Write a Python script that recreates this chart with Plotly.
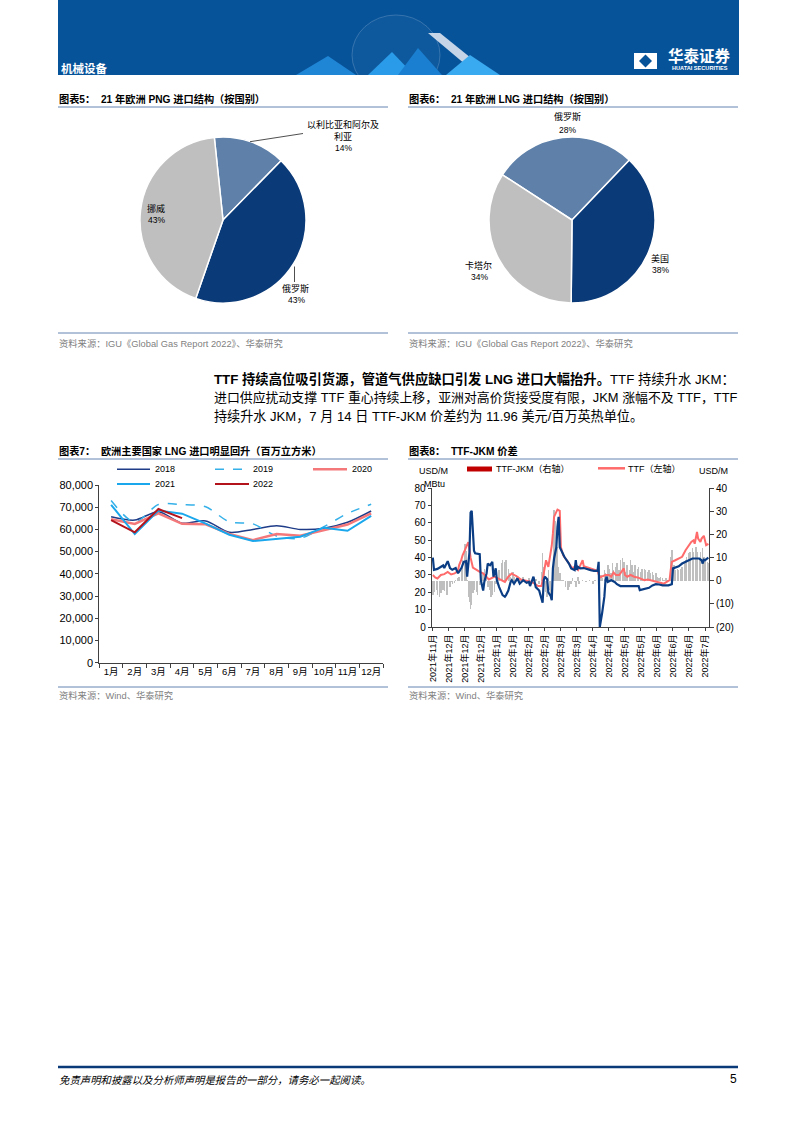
import plotly.graph_objects as go

W, H = 793, 1122
def X(px): return px / W
def Y(py): return 1 - py / H

FONT = "Liberation Sans, Noto Sans CJK SC, sans-serif"
CJK = "Noto Sans CJK SC, Liberation Sans, sans-serif"
NAVY = "#0b3a78"
STEEL = "#5e80a9"
GRAY = "#bfbfbf"
RULE = "#6584b0"
SRC = "#7f7f7f"
AX = "#404040"

# ---------------- data ----------------
png_labels = ["以利比亚和阿尔及利亚", "俄罗斯", "挪威"]
png_values = [14, 43, 43]
lng_labels = ["俄罗斯", "美国", "卡塔尔"]
lng_values = [28, 38, 34]

months = ["1月", "2月", "3月", "4月", "5月", "6月", "7月", "8月", "9月", "10月", "11月", "12月"]
lng_2018 = [65700, 64200, 68000, 62800, 63800, 58700, 60000, 61700, 60000, 60500, 63200, 68300]
lng_2019 = [73000, 63200, 71200, 71200, 70200, 63400, 62500, 57000, 56000, 61200, 67200, 71300]
lng_2020 = [64600, 62500, 67200, 62500, 62300, 58000, 55200, 57900, 57200, 59700, 62200, 67200]
lng_2021 = [71100, 57900, 68500, 67100, 62600, 57600, 54800, 55900, 56700, 60800, 59400, 66100]
lng_2022 = [64200, 58700, 69200, 65100]

jkm_dates = [
    "2021-11-17", "2021-11-18", "2021-11-21", "2021-11-24", "2021-11-26", "2021-11-27", "2021-11-30",
    "2021-12-02", "2021-12-04", "2021-12-07", "2021-12-09", "2021-12-10", "2021-12-12", "2021-12-14", "2021-12-16",
    "2021-12-17", "2021-12-19", "2021-12-20", "2021-12-21", "2021-12-23", "2021-12-24", "2021-12-28", "2021-12-29", "2021-12-31",
    "2022-01-01", "2022-01-03", "2022-01-04", "2022-01-06", "2022-01-08", "2022-01-09", "2022-01-11", "2022-01-12", "2022-01-14",
    "2022-01-17", "2022-01-19", "2022-01-20", "2022-01-22", "2022-01-24", "2022-01-25", "2022-01-27", "2022-01-30",
    "2022-02-01", "2022-02-04", "2022-02-07", "2022-02-09", "2022-02-10", "2022-02-12", "2022-02-13", "2022-02-15",
    "2022-02-18", "2022-02-21", "2022-02-22", "2022-02-23", "2022-02-25", "2022-02-26", "2022-02-28",
    "2022-03-01", "2022-03-02", "2022-03-03", "2022-03-05", "2022-03-06", "2022-03-07", "2022-03-08", "2022-03-10", "2022-03-12",
    "2022-03-14", "2022-03-16", "2022-03-18", "2022-03-21", "2022-03-22", "2022-03-23", "2022-03-24", "2022-03-26", "2022-03-29",
    "2022-04-01", "2022-04-04", "2022-04-07", "2022-04-10", "2022-04-11", "2022-04-12", "2022-04-14", "2022-04-16", "2022-04-17",
    "2022-04-18", "2022-04-19", "2022-04-22", "2022-04-25", "2022-04-27", "2022-04-30",
    "2022-05-03", "2022-05-06", "2022-05-09", "2022-05-12", "2022-05-16", "2022-05-17", "2022-05-19", "2022-05-22", "2022-05-25",
    "2022-05-28", "2022-05-31",
    "2022-06-03", "2022-06-06", "2022-06-11", "2022-06-14", "2022-06-15", "2022-06-17", "2022-06-20", "2022-06-23", "2022-06-26", "2022-06-29",
    "2022-07-02", "2022-07-08", "2022-07-10", "2022-07-11", "2022-07-12", "2022-07-13", "2022-07-16"]
jkm = [40, 33, 33.5, 35, 35.5, 34, 38,
       34, 33, 34, 31, 32, 34, 37.6, 38, 29, 43, 66, 67, 44, 42.5, 42, 27, 21,
       26, 31, 36.6, 35.6, 37.6, 29, 33.8, 27, 23, 18.4, 17.5, 18.4, 21, 26, 27, 25, 28,
       25, 27, 25.5, 26, 23.6, 28, 29, 23, 21, 14, 27, 29, 27.5, 20, 18,
       15.5, 33.8, 39.5, 46, 57.7, 63.5, 46, 43, 40.5, 38.5, 36.6, 33.8, 32.8, 38.5, 33, 34.7, 33.8, 34,
       33.2, 32.8, 32.4, 32.4, 37.6, 0, 7.9, 17.5, 27, 29, 26, 27, 26, 24.7, 23.6,
       23.6, 23.2, 23.6, 23.2, 23.6, 21.3, 21.7, 22.3, 22.6, 24, 24.7,
       24.5, 24, 24, 24.7, 33.8, 34.3, 35, 36.6, 37.6, 38.2,
       39.5, 39.5, 38.5, 36.6, 38.8, 38.5, 40]

ttf_dates = [
    "2021-11-17", "2021-11-19", "2021-11-21", "2021-11-24", "2021-11-27", "2021-11-30",
    "2021-12-03", "2021-12-06", "2021-12-09", "2021-12-10", "2021-12-12", "2021-12-13", "2021-12-15", "2021-12-16", "2021-12-18",
    "2021-12-19", "2021-12-20", "2021-12-22", "2021-12-25", "2021-12-28", "2021-12-31",
    "2022-01-03", "2022-01-05", "2022-01-10", "2022-01-13", "2022-01-16", "2022-01-19", "2022-01-22", "2022-01-25", "2022-01-27", "2022-01-30",
    "2022-02-02", "2022-02-05", "2022-02-08", "2022-02-11", "2022-02-14", "2022-02-17", "2022-02-20", "2022-02-21", "2022-02-23",
    "2022-02-24", "2022-02-26", "2022-02-27",
    "2022-03-01", "2022-03-02", "2022-03-03", "2022-03-05", "2022-03-06", "2022-03-08", "2022-03-09", "2022-03-11", "2022-03-14",
    "2022-03-17", "2022-03-19", "2022-03-21", "2022-03-24", "2022-03-26", "2022-03-28", "2022-03-29",
    "2022-04-01", "2022-04-04", "2022-04-07", "2022-04-10", "2022-04-12", "2022-04-14", "2022-04-17", "2022-04-20", "2022-04-22",
    "2022-04-24", "2022-04-26", "2022-04-29", "2022-04-30",
    "2022-05-03", "2022-05-04", "2022-05-06", "2022-05-09", "2022-05-12", "2022-05-15", "2022-05-18", "2022-05-21", "2022-05-24",
    "2022-05-27", "2022-05-29",
    "2022-06-01", "2022-06-04", "2022-06-07", "2022-06-10", "2022-06-12", "2022-06-13", "2022-06-14", "2022-06-17", "2022-06-20",
    "2022-06-23", "2022-06-26", "2022-06-29",
    "2022-07-01", "2022-07-03", "2022-07-04", "2022-07-06", "2022-07-07", "2022-07-09", "2022-07-10", "2022-07-12", "2022-07-13",
    "2022-07-14", "2022-07-16"]
ttf = [30, 28.6, 28, 30, 30.5, 31.8,
       30.3, 30.9, 32.4, 35.7, 39, 41.4, 44.3, 46.2, 49, 45, 40, 34.3, 32.8, 31.8, 31,
       29, 27.4, 29, 28, 27, 26, 29, 30.9, 30, 29,
       27.4, 27, 26.6, 26, 25, 23.6, 23.6, 27, 34.7, 38.5, 34.7, 38.5,
       47, 54, 63.5, 66.4, 67.7, 67, 46, 41.4, 38.5, 35.7, 33.8, 34.7, 32.8, 35.7, 38.5, 35,
       34.3, 33.8, 32.8, 32.4, 28.6, 29, 30, 30, 29, 31.5, 30, 30, 31,
       33.8, 30, 29, 30, 29, 28.6, 28, 27, 27.4, 27, 26.4,
       26, 25.5, 25, 26, 27, 32.8, 37.6, 38.5, 39.5, 40.5, 44.3, 47.2,
       49, 50, 48, 54.8, 51, 49, 51, 52.6, 50, 47.2, 48]

spread_dates = [
    "2021-11-17", "2021-11-18", "2021-11-20", "2021-11-21", "2021-11-23", "2021-11-24", "2021-11-26", "2021-11-27", "2021-11-29", "2021-11-30",
    "2021-12-02", "2021-12-03", "2021-12-04", "2021-12-06", "2021-12-07", "2021-12-09", "2021-12-10", "2021-12-12", "2021-12-13", "2021-12-15",
    "2021-12-16", "2021-12-17", "2021-12-18", "2021-12-19", "2021-12-20", "2021-12-21", "2021-12-22", "2021-12-23", "2021-12-25", "2021-12-26",
    "2021-12-28", "2021-12-29", "2021-12-31",
    "2022-01-01", "2022-01-03", "2022-01-04", "2022-01-06", "2022-01-07", "2022-01-08", "2022-01-10", "2022-01-11", "2022-01-13", "2022-01-14",
    "2022-01-16", "2022-01-17", "2022-01-19", "2022-01-20", "2022-01-22", "2022-01-23", "2022-01-24", "2022-01-26", "2022-01-27", "2022-01-29",
    "2022-02-01", "2022-02-04", "2022-02-07", "2022-02-09", "2022-02-12", "2022-02-15", "2022-02-18", "2022-02-20", "2022-02-21", "2022-02-22",
    "2022-02-24", "2022-02-25", "2022-02-26", "2022-02-27", "2022-02-28",
    "2022-03-02", "2022-03-03", "2022-03-04", "2022-03-05", "2022-03-06", "2022-03-07", "2022-03-08", "2022-03-10", "2022-03-11", "2022-03-13",
    "2022-03-15", "2022-03-16", "2022-03-18", "2022-03-19", "2022-03-21", "2022-03-22", "2022-03-24", "2022-03-25", "2022-03-28", "2022-03-31",
    "2022-04-03", "2022-04-06", "2022-04-08", "2022-04-11", "2022-04-13", "2022-04-14", "2022-04-16", "2022-04-17", "2022-04-19", "2022-04-20",
    "2022-04-22", "2022-04-23", "2022-04-24", "2022-04-26", "2022-04-27", "2022-04-29", "2022-04-30",
    "2022-05-02", "2022-05-03", "2022-05-05", "2022-05-06", "2022-05-08", "2022-05-09", "2022-05-10", "2022-05-12", "2022-05-13", "2022-05-15",
    "2022-05-16", "2022-05-18", "2022-05-19", "2022-05-21", "2022-05-22", "2022-05-24", "2022-05-25", "2022-05-26", "2022-05-28", "2022-05-29",
    "2022-05-31",
    "2022-06-01", "2022-06-03", "2022-06-04", "2022-06-06", "2022-06-07", "2022-06-09", "2022-06-10", "2022-06-11", "2022-06-13", "2022-06-14",
    "2022-06-16", "2022-06-17", "2022-06-19", "2022-06-20", "2022-06-22", "2022-06-23", "2022-06-25", "2022-06-26", "2022-06-27", "2022-06-29",
    "2022-06-30",
    "2022-07-02", "2022-07-03", "2022-07-05", "2022-07-06", "2022-07-08", "2022-07-09", "2022-07-11", "2022-07-12", "2022-07-13", "2022-07-15",
    "2022-07-16"]
spread = [-6, -5, -4, -6.2, -6.9, -5.5, -4, -4.6, -6.2, -6.2,
          -2.6, -0.5, -1.2, -0.9, 0.3, 1, 1.7, 4.6, 8.9, 16,
          13, 0.3, -7, -9, -12, -10.5, -5.5, -4, -4.7, -6.2,
          -1.9, -0.5, 3.2,
          5.3, 3.9, -2.6, -4, -6.9, -6.2, -4.7, -1.2, 0.3, 4.6,
          7.5, 8.9, 8.2, 8.9, 5.3, 3.2, 1.7, 3.9, 1.7, 2.4,
          1, 1.7, 0.3, 1, -0.4, 0.6, -1.2, 3.9, 12, 6,
          -5, -7, 4.6, -4, -8,
          1.7, 30.8, 26, 22, 14.7, 6, 3.2, 0.3, 0.3, -2.6,
          -4, -2.6, -1.2, 1, -0.4, -2.6, 1.7, -1.2, 0.3, -0.4,
          0.3, -1.2, 0.3, 0.3, 2.4, 1, 4.6, 3.2, 6.8, 5.3,
          3.2, 7.5, 4.6, 5.8, 7.5, 4.6, 8.9,
          10, 8.2, 3.9, 6.8, 4.6, 8.9, 6.8, 3.9, 6.8, 5.3,
          6, 3.9, 4.9, 5.3, 4.6, 3.9, 4.6, 3.2, 3.9, 2.4,
          3.2,
          1.7, 1, 1.7, 1, 0.3, 1, 0.3, 0.3, 10.4, 13.5,
          6.8, 4.6, 5.3, 4.6, 4.9, 6, 7.5, 8.9, 10.4, 11.8,
          12.5,
          14, 12.5, 14.7, 12.5, 8.9, 12.5, 14, 10.4, 8.9, 8.2,
          7.5]

tick_dates = ["2021-11-17", "2021-12-01", "2021-12-15", "2021-12-29", "2022-01-12", "2022-01-26",
              "2022-02-09", "2022-02-23", "2022-03-09", "2022-03-23", "2022-04-06", "2022-04-20",
              "2022-05-04", "2022-05-18", "2022-06-01", "2022-06-15", "2022-06-29", "2022-07-13"]
tick_text = ["2021年11月", "2021年12月", "2021年12月", "2021年12月", "2022年1月", "2022年1月",
             "2022年2月", "2022年2月", "2022年3月", "2022年3月", "2022年4月", "2022年4月",
             "2022年5月", "2022年5月", "2022年6月", "2022年6月", "2022年6月", "2022年7月"]
spread_ticks = [-20, -10, 0, 10, 20, 30, 40]
spread_tick_text = ["(20)", "(10)", "0", "10", "20", "30", "40"]

# ---------------- figure ----------------
fig = go.Figure()

fig.add_trace(go.Pie(
    labels=png_labels, values=png_values, sort=False, direction="clockwise", rotation=-6,
    marker=dict(colors=[STEEL, NAVY, GRAY], line=dict(color="white", width=1.5)),
    textinfo="none", hoverinfo="skip", showlegend=False,
    domain=dict(x=[X(223 - 83), X(223 + 83)], y=[Y(220 + 83), Y(220 - 83)])))
fig.add_trace(go.Pie(
    labels=lng_labels, values=lng_values, sort=False, direction="clockwise", rotation=-57,
    marker=dict(colors=[STEEL, NAVY, GRAY], line=dict(color="white", width=1.5)),
    textinfo="none", hoverinfo="skip", showlegend=False,
    domain=dict(x=[X(572 - 83), X(572 + 83)], y=[Y(220 + 83), Y(220 - 83)])))

series7 = [
    (lng_2018, "#1f3c88", 1.5, "solid", "spline"),
    (lng_2019, "#35b0e8", 1.5, "dash", "spline"),
    (lng_2020, "#f4787a", 2.5, "solid", "linear"),
    (lng_2021, "#1aa7ec", 2.0, "solid", "linear"),
    (lng_2022, "#b3131b", 2.0, "solid", "linear"),
]
for vals, col, wd, dash, shp in series7:
    fig.add_trace(go.Scatter(x=months[:len(vals)], y=vals, mode="lines", xaxis="x", yaxis="y",
                             line=dict(color=col, width=wd, dash=dash, shape=shp, smoothing=0.8),
                             hoverinfo="skip", showlegend=False))

fig.add_trace(go.Bar(x=spread_dates, y=spread, xaxis="x2", yaxis="y2", marker=dict(color=GRAY, line=dict(width=0)),
                     width=86400000 * 1.35, hoverinfo="skip", showlegend=False))
fig.add_trace(go.Scatter(x=ttf_dates, y=ttf, xaxis="x2", yaxis="y3", mode="lines",
                         line=dict(color="#ff6b6b", width=2), hoverinfo="skip", showlegend=False))
fig.add_trace(go.Scatter(x=jkm_dates, y=jkm, xaxis="x2", yaxis="y3", mode="lines",
                         line=dict(color="#0a3d84", width=2.2), hoverinfo="skip", showlegend=False))

axis_common = dict(showline=True, linecolor=AX, linewidth=1, tickcolor=AX, ticks="outside",
                   showgrid=False, zeroline=False, fixedrange=True, automargin=False)

fig.update_layout(
    width=W, height=H, margin=dict(l=0, r=0, t=0, b=0, pad=0, autoexpand=False),
    paper_bgcolor="white", plot_bgcolor="white", showlegend=False,
    font=dict(family=FONT, color="#000000"),
    bargap=0, barmode="overlay", hovermode=False,
    xaxis=dict(domain=[X(99.3), X(383)], type="category", range=[-0.5, 11.5], anchor="y",
               tickson="boundaries", ticklen=4, tickangle=0, tickfont=dict(size=9.5, family=FONT), **axis_common),
    yaxis=dict(domain=[Y(662.7), Y(485)], range=[0, 80000], dtick=10000, tickformat=",", anchor="x",
               ticklen=3, tickfont=dict(size=11, family=FONT), **axis_common),
    xaxis2=dict(domain=[X(431.7), X(709)], type="date", range=["2021-11-16", "2022-07-16 12:00"], anchor="y2",
                tickmode="array", tickvals=tick_dates, ticktext=tick_text, tickangle=-90, ticklen=3,
                tickfont=dict(size=9, family=FONT), **axis_common),
    yaxis2=dict(domain=[Y(627), Y(488.3)], range=[-20, 40], side="right", anchor="x2",
                tickmode="array", tickvals=spread_ticks, ticktext=spread_tick_text, ticklen=4,
                tickfont=dict(size=10, family=FONT), **axis_common),
    yaxis3=dict(domain=[Y(627), Y(488.3)], range=[0, 80], dtick=10, side="left", overlaying="y2", anchor="x2",
                ticklen=3, tickfont=dict(size=10, family=FONT), **axis_common),
)

shapes = []
def L(x0, y0, x1, y1, color, width=1, dash="solid"):
    shapes.append(dict(type="line", xref="paper", yref="paper", x0=X(x0), y0=Y(y0), x1=X(x1), y1=Y(y1),
                       line=dict(color=color, width=width, dash=dash)))
def R(x0, y0, x1, y1, fill):
    shapes.append(dict(type="rect", xref="paper", yref="paper", x0=X(x0), y0=Y(y0), x1=X(x1), y1=Y(y1),
                       fillcolor=fill, line=dict(width=0)))
def P(pts, fill):
    d = "M " + " L ".join(f"{X(a):.5f},{Y(b):.5f}" for a, b in pts) + " Z"
    shapes.append(dict(type="path", xref="paper", yref="paper", path=d, fillcolor=fill, line=dict(width=0)))

# header band and decoration
R(58, 0, 739, 75, "#07539a")
shapes.append(dict(type="circle", xref="paper", yref="paper", x0=X(352), y0=Y(95), x1=X(440), y1=Y(15),
                   line=dict(color="rgba(255,255,255,0.18)", width=1), fillcolor="rgba(255,255,255,0.03)"))
P([(296, 75), (328, 56), (356, 75)], "#1f86d6")
P([(368, 75), (392, 52), (414, 75)], "#2a9be8")
P([(398, 75), (418, 48), (442, 75)], "#1a7fd0")
P([(428, 33), (440, 33), (492, 75), (478, 75)], "rgba(230,236,245,0.85)")
P([(446, 75), (470, 55), (500, 75)], "#3aaaf0")
# logo
R(634, 53, 657, 69, "white")
P([(645.5, 54.5), (652, 61), (645.5, 67.5), (639, 61)], "#07539a")
L(58, 107, 388, 107, RULE); L(408, 107, 738, 107, RULE)
L(58, 333, 388, 333, RULE); L(408, 333, 738, 333, RULE)
L(58, 459, 388, 459, RULE); L(408, 459, 738, 459, RULE)
L(58, 687, 388, 687, RULE); L(408, 687, 738, 687, RULE)
L(58, 1067, 738, 1067, "#0b3a78", 2.5)
# pie leader lines
L(250, 141.7, 303, 133.5, "#222222", 0.8)
L(294.5, 266.5, 294.5, 282, "#222222", 0.8)
# chart7 legend swatches
L(117, 469.3, 150, 469.3, "#1f3c88", 1.5)
L(215, 469.3, 249, 469.3, "#35b0e8", 1.5, "dash")
L(313, 469.3, 347, 469.3, "#f4787a", 2.5)
L(117, 484, 150, 484, "#1aa7ec", 2)
L(215, 484, 249, 484, "#b3131b", 2)
# chart8 legend swatches
R(467, 466.5, 492, 471.5, "#c00000")
L(598, 468.3, 625, 468.3, "#ff6b6b", 2.5)
fig.update_layout(shapes=shapes)

def T(x, y, text, size=9, color="#000000", xanchor="left", family=FONT):
    fig.add_annotation(x=X(x), y=Y(y), xref="paper", yref="paper", text=text, showarrow=False,
                       xanchor=xanchor, yanchor="middle", font=dict(size=size, color=color, family=family),
                       align="left", borderpad=0)

# header texts
T(60, 68.5, "<b>机械设备</b>", 11.5, "white", family=CJK)
T(699, 55, "<b>华泰证券</b>", 15.5, "white", xanchor="center", family=CJK)
T(700, 68.3, "<b>HUATAI SECURITIES</b>", 5.6, "white", xanchor="center")

# titles
T(58, 99, "<b>图表5：  21 年欧洲 PNG 进口结构（按国别）</b>", 10.2)
T(408, 99, "<b>图表6：  21 年欧洲 LNG 进口结构（按国别）</b>", 10.2)
T(58, 451, "<b>图表7：  欧洲主要国家 LNG 进口明显回升（百万立方米）</b>", 10.2)
T(408, 451, "<b>图表8：  TTF-JKM 价差</b>", 10.2)

# pie labels
T(343, 124.3, "以利比亚和阿尔及", 9, xanchor="center")
T(343, 136, "利亚", 9, xanchor="center")
T(343, 148, "14%", 8.5, xanchor="center")
T(295, 288, "俄罗斯", 9, xanchor="center")
T(296, 300, "43%", 8.5, xanchor="center")
T(156, 208, "挪威", 9, xanchor="center")
T(156, 220, "43%", 8.5, xanchor="center")
T(567, 117, "俄罗斯", 9, xanchor="center")
T(567, 129.5, "28%", 8.5, xanchor="center")
T(660, 258, "美国", 9, xanchor="center")
T(660.5, 269.5, "38%", 8.5, xanchor="center")
T(478, 265, "卡塔尔", 9, xanchor="center")
T(479, 276.5, "34%", 8.5, xanchor="center")

# sources
T(58, 343.5, "资料来源：IGU《Global Gas Report 2022》、华泰研究", 9.3, SRC)
T(408, 343.5, "资料来源：IGU《Global Gas Report 2022》、华泰研究", 9.3, SRC)
T(58, 695.5, "资料来源：Wind、华泰研究", 9.3, SRC)
T(408, 695.5, "资料来源：Wind、华泰研究", 9.3, SRC)

# paragraph
T(213, 379, "<b>TTF 持续高位吸引货源，管道气供应缺口引发 LNG 进口大幅抬升。</b>TTF 持续升水 JKM：", 13.3)
T(213, 397.5, "进口供应扰动支撑 TTF 重心持续上移，亚洲对高价货接受度有限，JKM 涨幅不及 TTF，TTF", 12.9)
T(213, 416, "持续升水 JKM，7 月 14 日 TTF-JKM 价差约为 11.96 美元/百万英热单位。", 13.1)

# chart7 legend text
T(154, 469.3, "2018", 9)
T(252, 469.3, "2019", 9)
T(351, 469.3, "2020", 9)
T(154, 484, "2021", 9)
T(252, 484, "2022", 9)

# chart8 legend / units
T(495, 469, "TTF-JKM（右轴）", 9)
T(627, 469, "TTF（左轴）", 9)
T(418, 471.5, "USD/M", 9)
T(423, 483.5, "MBtu", 9)
T(698, 471.5, "USD/M", 9)

# footer
T(58, 1079.5, "<i>免责声明和披露以及分析师声明是报告的一部分，请务必一起阅读。</i>", 10.4, family=CJK)
T(738, 1079, "5", 12, xanchor="right")

fig.write_html("out.html",
               config={"displayModeBar": False, "staticPlot": True},
               post_script="document.documentElement.style.margin='0';document.body.style.margin='0';"
                           "document.body.style.padding='0';document.body.style.overflow='hidden';")
